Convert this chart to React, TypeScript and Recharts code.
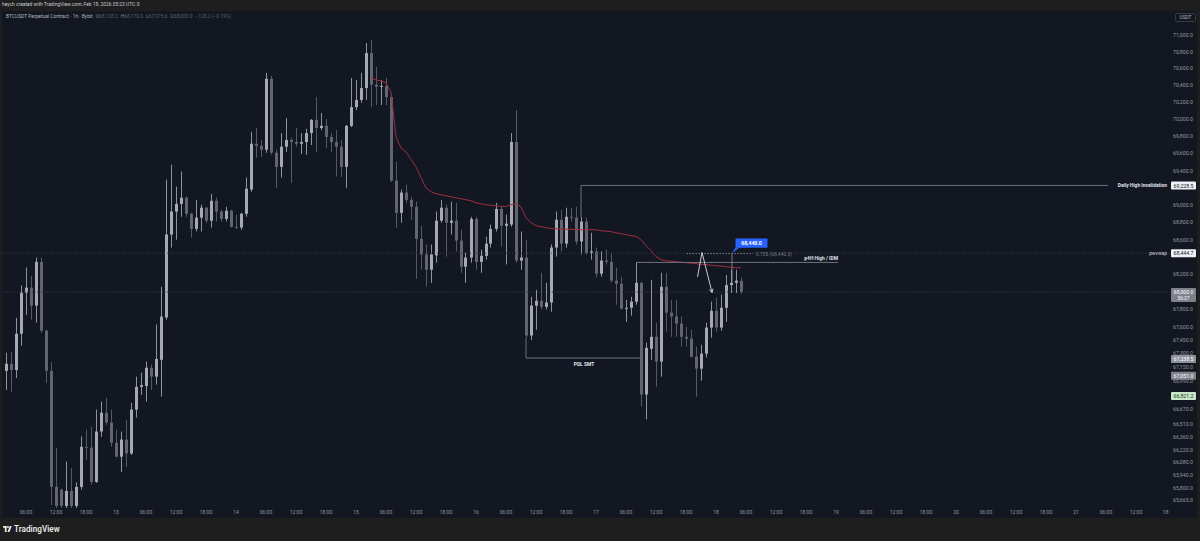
import React from 'react';
import { ComposedChart, Bar, Line, XAxis, YAxis, ReferenceLine } from 'recharts';

// BTCUSDT perp, 1h candles, Feb 12 02:00 -> Feb 18 05:00 (UTC-5)
const opens = [
  67105, 67185, 67115, 67525, 67990, 68050, 67845, 68345, 67560, 67105,
  65810, 65780, 65600, 65765, 65600, 65810, 66255, 66245, 65865, 66425,
  66635, 66525, 66300, 66145, 66335, 66180, 66670, 66925, 66935, 67140,
  67040, 67230, 67710, 68660, 68925, 69015, 69085, 68900, 68725, 68855,
  68970, 68820, 69050, 68925, 68840, 68935, 68750, 68740, 68900, 69180,
  69715, 69690, 69645, 70480, 69610, 69445, 69680, 69760, 69735, 69715,
  69735, 69840, 69995, 69900, 69925, 69795, 69735, 69680, 69445, 69925,
  70145, 70230, 70370, 70785, 70410, 70385, 70395, 70265, 69285, 68910,
  69145, 69060, 68980, 68610, 68430, 68255, 68420, 68820, 68970, 68795,
  68820, 68590, 68290, 68395, 68840, 68345, 68415, 68555, 68725, 68955,
  68760, 68775, 69735, 68360, 68395, 67505, 67845, 67900, 67830, 67880,
  68510, 68830, 68555, 68865, 68855, 68580, 68810, 68450, 68465, 68210,
  68360, 68345, 68130, 68095, 67810, 67820, 67890, 68105, 66840, 67355,
  67490, 67210, 68060, 67765, 67720, 67640, 67490, 67470, 67265, 67130,
  67300, 67595, 67785, 67595, 67820, 68080, 68105, 68128.2,
];
const highs = [
  67310, 67320, 67705, 68075, 68280, 68185, 68395, 68395, 67570, 67205,
  66245, 65790, 66090, 66020, 65860, 66370, 66445, 66480, 66670, 66760,
  66800, 66670, 66445, 66425, 66555, 66745, 67040, 67085, 67210, 67175,
  67630, 68060, 69295, 69470, 69215, 69390, 69100, 68910, 69060, 69005,
  68980, 69130, 69085, 68945, 68980, 68945, 68890, 68910, 69320, 69855,
  69900, 69760, 70550, 70515, 69645, 69840, 70015, 69785, 69900, 69840,
  69890, 70005, 70265, 70075, 70005, 69840, 69875, 69760, 69935, 70490,
  70465, 70550, 70905, 70940, 70620, 70465, 70490, 70290, 69505, 69180,
  69235, 69095, 69040, 68760, 68545, 68545, 68925, 69060, 69005, 69040,
  69025, 68715, 68450, 68865, 68865, 68485, 68635, 68775, 69025, 68980,
  68890, 69840, 70110, 68695, 68600, 67945, 68025, 68220, 68105, 68545,
  68925, 68945, 68970, 68970, 68980, 68865, 68855, 68680, 68510, 68465,
  68485, 68450, 68280, 68175, 67910, 67945, 68335, 68115, 67425, 68140,
  67650, 68220, 68220, 67910, 67910, 67720, 67605, 67570, 67380, 67400,
  67650, 67890, 67935, 67970, 68195, 68255, 68255, 68170,
];
const lows = [
  66890, 66870, 67025, 67390, 67740, 67685, 67650, 67535, 66970, 65610,
  65560, 65560, 65570, 65560, 65565, 65780, 66110, 65835, 65855, 66365,
  66500, 66255, 66135, 65975, 66030, 66165, 66580, 66835, 66760, 66890,
  66950, 66815, 67685, 68510, 68600, 68865, 68865, 68625, 68695, 68695,
  68795, 68740, 68810, 68810, 68810, 68740, 68725, 68715, 68865, 69155,
  69550, 69560, 69610, 69585, 69200, 69320, 69620, 69260, 69680, 69595,
  69585, 69700, 69620, 69875, 69665, 69620, 69330, 69330, 69200, 69910,
  70110, 70195, 70230, 70145, 70170, 70170, 70170, 69270, 68740, 68795,
  69025, 68830, 68150, 68255, 68060, 68105, 68335, 68795, 68405, 68660,
  68465, 68220, 68105, 68335, 68255, 68220, 68370, 68510, 68695, 68520,
  68315, 68750, 68335, 68255, 67480, 67455, 67570, 67800, 67800, 67775,
  68405, 68465, 68510, 68810, 68545, 68428, 68430, 68370, 68165, 68175,
  68315, 68105, 67855, 67800, 67660, 67730, 67855, 66705, 66560, 67230,
  66925, 67040, 67550, 67490, 67490, 67380, 67380, 67255, 66815, 66995,
  67255, 67480, 67550, 67560, 67660, 67990, 67990, 67975.6,
];
const closes = [
  67185, 67115, 67525, 67990, 68050, 67845, 68345, 67560, 67105, 65810,
  65600, 65600, 65765, 65600, 65810, 66255, 66245, 65865, 66425, 66635,
  66525, 66300, 66145, 66335, 66180, 66670, 66925, 66945, 67140, 67040,
  67240, 67720, 68660, 68925, 69015, 69085, 68900, 68725, 68855, 68970,
  68820, 69050, 68925, 68840, 68935, 68750, 68740, 68900, 69190, 69715,
  69690, 69645, 70480, 69610, 69445, 69680, 69760, 69735, 69715, 69735,
  69840, 69995, 69900, 69925, 69795, 69735, 69680, 69445, 69925, 70145,
  70230, 70370, 70785, 70410, 70385, 70395, 70265, 69285, 68910, 69145,
  69060, 68980, 68610, 68430, 68255, 68430, 68820, 68970, 68795, 68820,
  68590, 68290, 68395, 68840, 68345, 68415, 68555, 68725, 68955, 68760,
  68785, 69735, 68360, 68395, 67505, 67845, 67900, 67830, 67880, 68510,
  68830, 68555, 68865, 68855, 68580, 68810, 68450, 68465, 68210, 68360,
  68345, 68130, 68095, 67810, 67820, 67890, 68105, 66840, 67365, 67490,
  67210, 68060, 67765, 67720, 67640, 67490, 67470, 67265, 67130, 67300,
  67595, 67785, 67595, 67820, 68080, 68105, 68130, 68000,
];

// anchored vwap (red), starts at candle 73
const vwapStart = 73;
const vwap = [
  70490, 70467, 70455, 70431, 70320, 69795, 69665, 69620, 69530, 69445,
  69320, 69200, 69155, 69132, 69120, 69108, 69097, 69085, 69073, 69062,
  69050, 69027, 69015, 69004, 68998, 68992, 68986, 68984, 69004, 69015,
  68980, 68854, 68796, 68762, 68750, 68739, 68727, 68727, 68724, 68721,
  68720, 68718, 68715, 68715, 68715, 68715, 68704, 68698, 68693, 68681,
  68670, 68658, 68646, 68640, 68600, 68532, 68474, 68405, 68370, 68359,
  68353, 68347, 68341, 68336, 68330, 68324, 68318, 68313, 68307, 68301,
  68296, 68290, 68284, 68278, 68278,
];

const timeTicks = [
  4, 10, 16, 22, 28, 34, 40, 46, 52, 58, 64, 70, 76, 82, 88, 94, 100, 106, 112, 118,
  124, 130, 136, 142, 148, 154, 160, 166, 172, 178, 184, 190, 196, 202, 208, 214, 220, 226, 232,
];
const timeLabels = [
  '06:00', '12:00', '18:00', '13', '06:00', '12:00', '18:00', '14', '06:00', '12:00',
  '18:00', '15', '06:00', '12:00', '18:00', '16', '06:00', '12:00', '18:00', '17',
  '06:00', '12:00', '18:00', '18', '06:00', '12:00', '18:00', '19', '06:00', '12:00',
  '18:00', '20', '06:00', '12:00', '18:00', '21', '06:00', '12:00', '18:',
];
const priceTicks = [
  71000, 70800, 70600, 70400, 70200, 70000, 69800, 69600, 69400, 69000,
  68800, 68600, 68200, 67800, 67600, 67450, 67300, 67150, 66990,
  66670, 66510, 66360, 66220, 66080, 65940, 65800, 65665,
];

// drawn levels
const dailyHigh = 69228.5;
const pwvwap = 68444.7;
const lastPrice = 68000;
const p4hHigh = 68339;
const fibLevel = 68440.3;
const alertPrice = 68440.0;
const pdlLevel = 67250;
const sideTags = [
  { price: 67238.5, bg: '#8f929b' },
  { price: 67051.0, bg: '#80838d' },
];
const greenTag = 66821.2;

const CHART_W = 1195;
const CHART_H = 507;
const AXIS_W = 27;
const PLOT_R = CHART_W - AXIS_W;
const UP = '#a6a9b2';
const DOWN = '#62656f';
const FONT = 'Roboto, "Noto Sans", sans-serif';
const LINE = '#70737d';

const data = opens.map((open, i) => ({
  i,
  open,
  high: highs[i],
  low: lows[i],
  close: closes[i],
  range: [lows[i], highs[i]],
  vwap: i >= vwapStart ? vwap[i - vwapStart] : null,
}));

const fmt = (v: number) =>
  v.toLocaleString('en-US', { minimumFractionDigits: 1, maximumFractionDigits: 1 });

const Candle = (props: any) => {
  const { x, y, width, height, payload } = props;
  if (!payload || height == null || isNaN(y)) return null;
  const { open, close, high, low } = payload;
  const top = Math.min(y, y + height);
  const h = Math.abs(height);
  const lh = Math.log(high);
  const ll = Math.log(low);
  const toY = (v: number) => (lh === ll ? top : top + (h * (lh - Math.log(v))) / (lh - ll));
  const yo = toY(open);
  const yc = toY(close);
  const color = close >= open ? UP : DOWN;
  const bx = Math.round(x + width / 2 - 1.5);
  const bTop = Math.min(yo, yc);
  const bH = Math.max(1, Math.abs(yo - yc));
  return (
    <g>
      <line x1={bx + 1.5} x2={bx + 1.5} y1={top} y2={top + h} stroke={color} strokeWidth={1} strokeOpacity={0.85} />
      <rect x={bx} y={bTop} width={3} height={bH} fill={color} />
    </g>
  );
};

// price-axis tag with optional pane line / note
const tag =
  (text: string, bg: string, fg: string, opts: { line?: string; dash?: string; note?: string; sub?: string } = {}) =>
  (p: any) => {
    const y = p.y1;
    const left = Math.min(p.x1, p.x2);
    const right = Math.max(p.x1, p.x2);
    return (
      <g>
        {opts.line && (
          <line x1={left} x2={right} y1={y} y2={y} stroke={opts.line} strokeDasharray={opts.dash} strokeWidth={1} />
        )}
        {opts.note && (
          <text x={right - 3} y={y} textAnchor="end" dominantBaseline="central" fontSize={4.9} fill="#d1d4dc" fontFamily={FONT}>
            {opts.note}
          </text>
        )}
        <rect x={right + 1} y={y - 4} width={25} height={opts.sub ? 14 : 8} fill={bg} rx={1} />
        <text x={right + 13.5} y={y + 0.2} textAnchor="middle" dominantBaseline="central" fontSize={5.2} fill={fg} fontFamily={FONT}>
          {text}
        </text>
        {opts.sub && (
          <text x={right + 13.5} y={y + 6.6} textAnchor="middle" dominantBaseline="central" fontSize={4.8} fill={fg} fontFamily={FONT}>
            {opts.sub}
          </text>
        )}
      </g>
    );
  };

const plainLine = (color: string, dash?: string) => (p: any) =>
  <line x1={p.x1} y1={p.y1} x2={p.x2} y2={p.y2} stroke={color} strokeDasharray={dash} strokeWidth={1} />;

const arrowLine = (p: any) => {
  const ang = Math.atan2(p.y2 - p.y1, p.x2 - p.x1);
  const len = 4;
  const a1 = ang + Math.PI - 0.5;
  const a2 = ang + Math.PI + 0.5;
  return (
    <g stroke="#c9ccd3" strokeWidth={1} fill="none">
      <line x1={p.x1} y1={p.y1} x2={p.x2} y2={p.y2} />
      <polyline
        points={`${p.x2 + len * Math.cos(a1)},${p.y2 + len * Math.sin(a1)} ${p.x2},${p.y2} ${p.x2 + len * Math.cos(a2)},${p.y2 + len * Math.sin(a2)}`}
      />
    </g>
  );
};

const App: React.FC = () => (
  <div style={{ position: 'absolute', left: 0, top: 0, width: 1200, height: 541, background: '#1e1e1e', overflow: 'hidden' }}>
    <svg width={1200} height={541} style={{ position: 'absolute', left: 0, top: 0 }}>
      <rect x={2} y={11} width={1195} height={507} fill="#131722" />
      <text x={2} y={6} fontSize={4.9} fill="#c7cad1" fontFamily={FONT}>
        heych created with TradingView.com, Feb 18, 2026 05:23 UTC-5
      </text>
      <text x={6} y={17.6} fontSize={4.9} fontFamily={FONT}>
        <tspan fill="#b2b5be">BTCUSDT Perpetual Contract · 1h · Bybit</tspan>
        <tspan fill="#80838d" dx={3}>O</tspan>
        <tspan fill="#5d606b">68,128.2</tspan>
        <tspan fill="#80838d" dx={3}>H</tspan>
        <tspan fill="#5d606b">68,170.0</tspan>
        <tspan fill="#80838d" dx={3}>L</tspan>
        <tspan fill="#5d606b">67,975.6</tspan>
        <tspan fill="#80838d" dx={3}>C</tspan>
        <tspan fill="#5d606b">68,000.0</tspan>
        <tspan fill="#5d606b" dx={3}>−128.2 (−0.19%)</tspan>
      </text>
      <rect x={1175.5} y={13.5} width={20} height={8} fill="#131722" stroke="#363a45" strokeWidth={1} rx={1} />
      <text x={1185.5} y={17.7} textAnchor="middle" dominantBaseline="central" fontSize={4.8} fill="#b2b5be" fontFamily={FONT}>
        USDT
      </text>
      <g fill="#e6e6e6">
        <rect x={3} y={526} width={3.6} height={1.8} />
        <rect x={4.8} y={526} width={1.8} height={6} />
        <circle cx={8} cy={527} r={1} />
        <polygon points="9.8,526 11.8,526 9.4,532 7.4,532" />
      </g>
      <text x={14} y={532} fontSize={8.2} fontWeight={600} fill="#e6e6e6" fontFamily={FONT}>
        TradingView
      </text>
    </svg>
    <div style={{ position: 'absolute', left: 2, top: 11 }}>
      <ComposedChart width={CHART_W} height={CHART_H} data={data} margin={{ top: 0, right: 0, bottom: 0, left: 0 }}>
        <XAxis
          dataKey="i"
          type="number"
          domain={[-0.8, 232.8]}
          allowDataOverflow
          ticks={timeTicks}
          interval={0}
          tickFormatter={(v: number) => timeLabels[timeTicks.indexOf(v)] ?? ''}
          tickLine={false}
          axisLine={false}
          tickSize={0}
          tickMargin={2}
          height={10}
          tick={{ fontSize: 5, fill: '#9598a1', fontFamily: FONT }}
        />
        <YAxis
          orientation="right"
          scale="log"
          domain={[65577, 71287]}
          allowDataOverflow
          ticks={priceTicks}
          interval={0}
          tickFormatter={fmt}
          tickLine={false}
          axisLine={false}
          tickSize={0}
          tickMargin={3}
          width={AXIS_W}
          tick={{ fontSize: 5.2, fill: '#9598a1', fontFamily: FONT }}
        />
        <Bar dataKey="range" barSize={3} shape={Candle} isAnimationActive={false} />
        <Line
          dataKey="vwap"
          type="linear"
          stroke="#a02d3d"
          strokeWidth={1}
          dot={false}
          activeDot={false}
          isAnimationActive={false}
        />

        <ReferenceLine y={lastPrice} ifOverflow="visible" shape={tag(fmt(lastPrice), '#7e818b', '#ffffff', { line: '#3a3e4a', dash: '1 1.5', sub: '36:27' })} />
        <ReferenceLine y={pwvwap} ifOverflow="visible" shape={tag(fmt(pwvwap), '#eef0f5', '#131722', { line: '#3a3e4a', dash: '1 2', note: 'pwvwap' })} />
        <ReferenceLine y={dailyHigh} ifOverflow="visible" shape={tag(fmt(dailyHigh), '#eef0f5', '#131722')} />
        {sideTags.map((t) => (
          <ReferenceLine key={t.price} y={t.price} ifOverflow="visible" shape={tag(fmt(t.price), t.bg, '#ffffff')} />
        ))}
        <ReferenceLine y={greenTag} ifOverflow="visible" shape={tag(fmt(greenTag), '#c8e6c9', '#1b3d1d')} />

        {/* daily high invalidation */}
        <ReferenceLine segment={[{ x: 115, y: dailyHigh }, { x: 115, y: 68865 }]} ifOverflow="visible" shape={plainLine(LINE)} />
        <ReferenceLine
          segment={[{ x: 115, y: dailyHigh }, { x: 220.4, y: dailyHigh }]}
          ifOverflow="visible"
          shape={(p: any) => (
            <g>
              <line x1={p.x1} y1={p.y1} x2={p.x2} y2={p.y2} stroke={LINE} strokeWidth={1} />
              <text x={PLOT_R - 3} y={p.y1} textAnchor="end" dominantBaseline="central" fontSize={4.9} fontWeight={700} fill="#e0e3eb" fontFamily={FONT}>
                Daily High Invalidation
              </text>
            </g>
          )}
        />

        {/* p4H high / IDM */}
        <ReferenceLine
          segment={[{ x: 126, y: p4hHigh }, { x: 166.4, y: p4hHigh }]}
          ifOverflow="visible"
          shape={(p: any) => (
            <g>
              <line x1={p.x1} y1={p.y1} x2={p.x2} y2={p.y2} stroke={LINE} strokeWidth={1} />
              <text x={p.x2} y={p.y1 - 4.5} textAnchor="end" dominantBaseline="central" fontSize={4.9} fontWeight={700} fill="#e0e3eb" fontFamily={FONT}>
                p4H High / IDM
              </text>
            </g>
          )}
        />

        {/* fib 0.705 */}
        <ReferenceLine
          segment={[{ x: 136.1, y: fibLevel }, { x: 149.4, y: fibLevel }]}
          ifOverflow="visible"
          shape={(p: any) => (
            <g>
              <line x1={p.x1} y1={p.y1} x2={p.x2} y2={p.y2} stroke="#787b86" strokeDasharray="1.5 1.5" strokeWidth={1} />
              <text x={p.x2 + 3} y={p.y1} dominantBaseline="central" fontSize={4.9} fill="#787b86" fontFamily={FONT}>
                0.705 ({fmt(fibLevel)})
              </text>
            </g>
          )}
        />

        {/* PDL SMT */}
        <ReferenceLine segment={[{ x: 104, y: 67480 }, { x: 104, y: pdlLevel }]} ifOverflow="visible" shape={plainLine(LINE)} />
        <ReferenceLine
          segment={[{ x: 104, y: pdlLevel }, { x: 127.2, y: pdlLevel }]}
          ifOverflow="visible"
          shape={(p: any) => (
            <g>
              <line x1={p.x1} y1={p.y1} x2={p.x2} y2={p.y2} stroke={LINE} strokeWidth={1} />
              <text x={(p.x1 + p.x2) / 2} y={p.y1 + 5.5} textAnchor="middle" dominantBaseline="central" fontSize={4.9} fontWeight={700} fill="#e0e3eb" fontFamily={FONT}>
                PDL SMT
              </text>
            </g>
          )}
        />

        {/* zigzag projection */}
        <ReferenceLine segment={[{ x: 138.3, y: 68171 }, { x: 139.2, y: 68454 }]} ifOverflow="visible" shape={plainLine('#c9ccd3')} />
        <ReferenceLine segment={[{ x: 139.2, y: 68454 }, { x: 141.2, y: 67994 }]} ifOverflow="visible" shape={arrowLine} />

        {/* price alert label */}
        <ReferenceLine
          segment={[{ x: 145.2, y: alertPrice }, { x: 145.2, y: 68105 }]}
          ifOverflow="visible"
          shape={(p: any) => (
            <g>
              <line x1={p.x1} y1={p.y1} x2={p.x2} y2={p.y2} stroke="#9598a1" strokeWidth={0.8} />
              <polygon points={`${p.x1},${p.y1} ${p.x1 + 3.5},${p.y1 - 6} ${p.x1 + 7.5},${p.y1 - 6}`} fill="#2962ff" />
              <rect x={p.x1 + 3.5} y={p.y1 - 15.2} width={32} height={9.4} fill="#2962ff" rx={1} />
              <text x={p.x1 + 19.5} y={p.y1 - 10.4} textAnchor="middle" dominantBaseline="central" fontSize={5.2} fontWeight={700} fill="#ffffff" fontFamily={FONT}>
                {fmt(alertPrice)}
              </text>
            </g>
          )}
        />
      </ComposedChart>
    </div>
  </div>
);

export default App;
